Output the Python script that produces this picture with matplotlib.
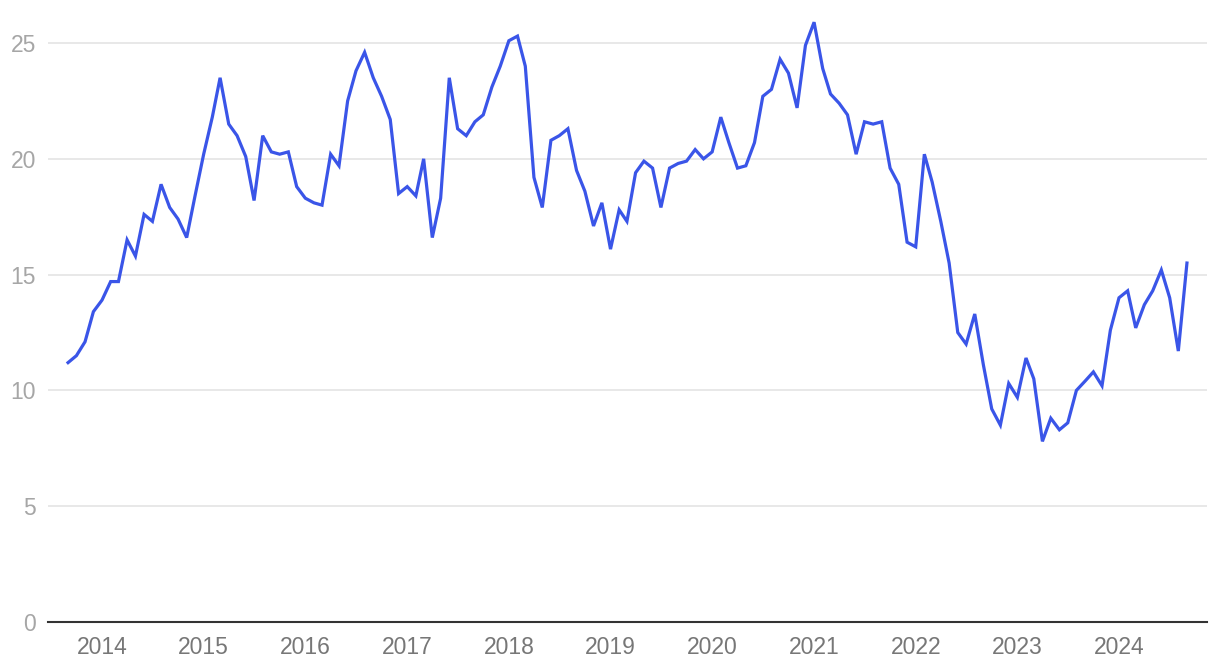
import pandas as pd
import matplotlib
matplotlib.use("Agg")
import matplotlib.pyplot as plt
import matplotlib.dates as mdates

# monthly values, Sep 2013 .. Sep 2024
start_month = "2013-09-01"
values = [
    11.2, 11.5, 12.1, 13.4,
    13.9, 14.7, 14.7, 16.5, 15.8, 17.6, 17.3, 18.9, 17.9, 17.4, 16.6, 18.4,   # 2014
    20.2, 21.8, 23.5, 21.5, 21.0, 20.1, 18.2, 21.0, 20.3, 20.2, 20.3, 18.8,   # 2015
    18.3, 18.1, 18.0, 20.2, 19.7, 22.5, 23.8, 24.6, 23.5, 22.7, 21.7, 18.5,   # 2016
    18.8, 18.4, 20.0, 16.6, 18.3, 23.5, 21.3, 21.0, 21.6, 21.9, 23.1, 24.0,   # 2017
    25.1, 25.3, 24.0, 19.2, 17.9, 20.8, 21.0, 21.3, 19.5, 18.6, 17.1, 18.1,   # 2018
    16.1, 17.8, 17.3, 19.4, 19.9, 19.6, 17.9, 19.6, 19.8, 19.9, 20.4, 20.0,   # 2019
    20.3, 21.8, 20.7, 19.6, 19.7, 20.7, 22.7, 23.0, 24.3, 23.7, 22.2, 24.9,   # 2020
    25.9, 23.9, 22.8, 22.4, 21.9, 20.2, 21.6, 21.5, 21.6, 19.6, 18.9, 16.4,   # 2021
    16.2, 20.2, 19.0, 17.3, 15.5, 12.5, 12.0, 13.3, 11.1, 9.2, 8.5, 10.3,     # 2022
    9.7, 11.4, 10.5, 7.8, 8.8, 8.3, 8.6, 10.0, 10.4, 10.8, 10.2, 12.6,        # 2023
    14.0, 14.3, 12.7, 13.7, 14.3, 15.2, 14.0, 11.7, 15.5,                     # 2024
]
y_ticks = [0, 5, 10, 15, 20, 25]

months = pd.date_range(start_month, periods=len(values), freq="MS")

plt.rcParams["font.family"] = ["Liberation Sans", "DejaVu Sans"]

fig = plt.figure(figsize=(12.2, 6.68), dpi=100)
ax = fig.add_axes([48 / 1220, 46 / 668, (1207 - 48) / 1220, 613.7 / 668])

ax.plot(months, values, color="#3a55e8", lw=2.3, solid_joinstyle="miter", zorder=3)

ax.set_ylim(0, 26.5)
ax.set_yticks(y_ticks)
pad = pd.Timedelta(days=72)
ax.set_xlim(months[0] - pad, months[-1] + pad)
ax.xaxis.set_major_locator(mdates.YearLocator())
ax.xaxis.set_major_formatter(mdates.DateFormatter("%Y"))

ax.grid(axis="y", color="#e4e4e4", lw=1.2)
ax.grid(axis="x", visible=False)
ax.set_axisbelow(True)
for side in ["top", "right", "left"]:
    ax.spines[side].set_visible(False)
ax.spines["bottom"].set_color("#333333")
ax.spines["bottom"].set_linewidth(1.5)
ax.spines["bottom"].set_zorder(4)

ax.tick_params(axis="y", length=0, pad=8.5, labelsize=16.5, labelcolor="#a6a6a6")
ax.tick_params(axis="x", length=0, pad=10, labelsize=16.5, labelcolor="#777777")

fig.savefig("out.png", dpi=100)
